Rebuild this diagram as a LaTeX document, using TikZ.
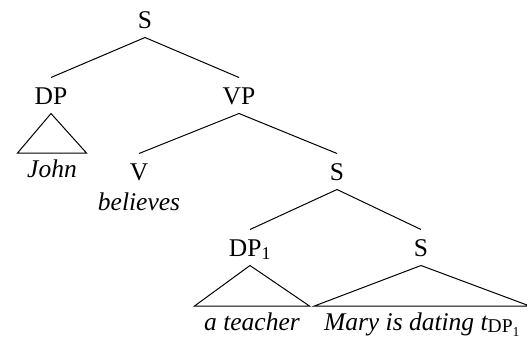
\documentclass[tikz,border=0pt]{standalone}
\usepackage{fontspec}
\setmainfont{Liberation Serif}
\usetikzlibrary{positioning}

\begin{document}
\begin{tikzpicture}[
  x=1pt, y=-1pt,
  cat/.style={font=\fontsize{25.5}{30}\selectfont, inner sep=0pt,
              text height=17pt, text depth=0pt, outer ysep=9.5pt, anchor=base},
  leaf/.style={font=\fontsize{25.5}{30}\selectfont\itshape, inner sep=0pt,
               inner xsep=9.5pt, text height=24pt, text depth=6pt, anchor=north},
  word/.style={font=\fontsize{25.5}{30}\selectfont\itshape, inner sep=0pt, anchor=base},
  branch/.style={line width=1pt, line join=miter}
]
  \useasboundingbox (0,0) rectangle (527,338);
  % categories, one row per level
  \node[cat] (s0)  at (145,28)  {S};
  \node[cat] (dp)  at (51,104)  {DP};
  \node[cat] (vp)  at (239,104) {VP};
  \node[cat] (v)   at (139,180) {V};
  \node[cat] (s1)  at (337,180) {S};
  \node[cat] (dpi) at (250,256) {DP\textsubscript{1}};
  \node[cat] (s2)  at (421,256) {S};
  % terminals
  \node[leaf] (john)    at (52,153)  {John};
  \node[word] (believes) at (139,210) {believes};
  \node[leaf] (teacher) at (252,306) {a teacher};
  \node[leaf] (mary)    at (422,306)
    {Mary is dating t{\fontsize{19.5}{22}\selectfont\upshape\raisebox{-0.3ex}{DP\textsubscript{1}}}};
  % branches
  \draw[branch] (s0.south) -- (dp.north);
  \draw[branch] (s0.south) -- (vp.north);
  \draw[branch] (vp.south) -- (v.north);
  \draw[branch] (vp.south) -- (s1.north);
  \draw[branch] (s1.south) -- (dpi.north);
  \draw[branch] (s1.south) -- (s2.north);
  % triangles over unanalysed phrases
  \draw[branch] (dp.south) -- (john.north west) -- (john.north east) -- cycle;
  \draw[branch] (dpi.south) -- (teacher.north west) -- (teacher.north east) -- cycle;
  \draw[branch] (s2.south) -- (mary.north west) -- (mary.north east) -- cycle;
\end{tikzpicture}
\end{document}
